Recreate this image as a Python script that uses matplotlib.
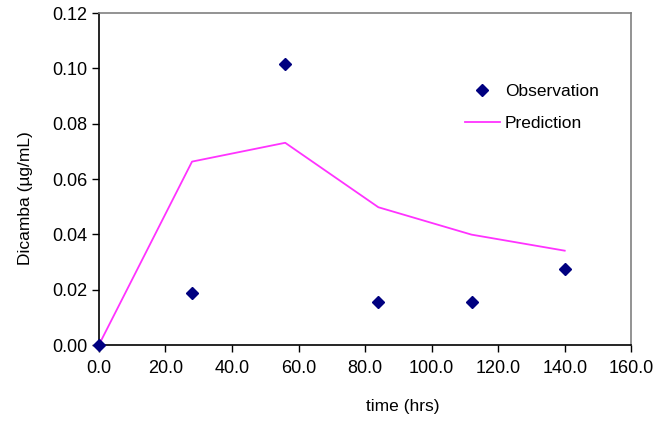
import matplotlib
matplotlib.use("Agg")
import matplotlib.pyplot as plt

# hodnoty
cas = [0, 28, 56, 84, 112, 140]
pozorovani = [0.0, 0.0188, 0.1017, 0.0157, 0.0157, 0.0275]
predikce = [0.0, 0.0663, 0.0731, 0.0498, 0.0399, 0.0341]

x_ticks = [0, 20, 40, 60, 80, 100, 120, 140, 160]
y_ticks = [0.0, 0.02, 0.04, 0.06, 0.08, 0.10, 0.12]

plt.rcParams['font.family'] = ['Liberation Sans', 'DejaVu Sans']

fig = plt.figure(figsize=(6.68, 4.21), dpi=100)
ax = fig.add_axes([0.148, 0.1805, 0.797, 0.7885])

ax.plot(cas, predikce, color='#ff33ff', linewidth=1.3, label='Prediction', zorder=2)
ax.plot(cas, pozorovani, linestyle='none', marker='D', markersize=6,
        color='#000080', label='Observation', zorder=3, clip_on=False)

ax.set_xlim(0, 160)
ax.set_ylim(0, 0.12)
ax.set_xticks(x_ticks)
ax.set_xticklabels(['%.1f' % v for v in x_ticks])
ax.set_yticks(y_ticks)
ax.set_yticklabels(['%.2f' % v for v in y_ticks])
ax.tick_params(direction='out', length=5, width=1, labelsize=13, colors='black')
ax.tick_params(axis='x', pad=6)

for side in ['left', 'bottom']:
    ax.spines[side].set_color('black')
    ax.spines[side].set_linewidth(1.2)
for side in ['top', 'right']:
    ax.spines[side].set_color('#808080')
    ax.spines[side].set_linewidth(1.2)

ax.set_xlabel('time (hrs)', fontsize=12.5)
ax.set_ylabel('Dicamba (µg/mL)', fontsize=12.5)
ax.xaxis.set_label_coords(0.57, -0.163)
ax.yaxis.set_label_coords(-0.124, 0.443)

handles, labels = ax.get_legend_handles_labels()
leg = ax.legend(handles[::-1], labels[::-1], frameon=False, fontsize=12.5,
                loc='upper left', bbox_to_anchor=(0.658, 0.835),
                handlelength=2.0, handletextpad=0.3, labelspacing=1.0)

fig.savefig('out.png', dpi=100)
